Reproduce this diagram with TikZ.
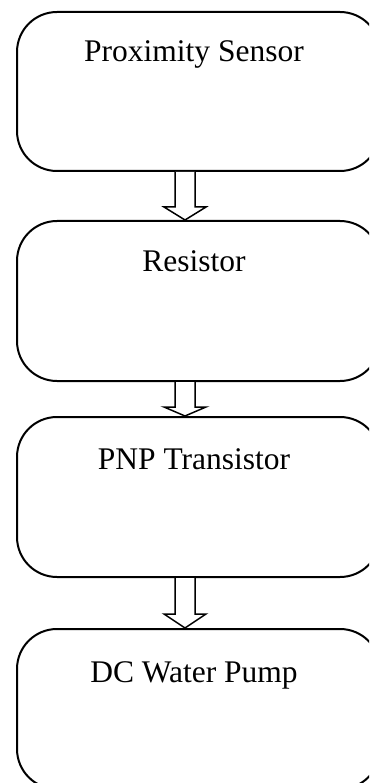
\documentclass[tikz,border=0pt]{standalone}
\usepackage{fontspec}
\setmainfont{Liberation Serif}
\usetikzlibrary{calc}
\tikzset{
  stagebox/.style={draw=black, line width=2pt, rounded corners=40pt,
    minimum width=363pt, inner sep=0pt},
  stagetext/.style={anchor=base, inner sep=0pt,
    font=\fontsize{31.5}{36}\selectfont},
  hollowarrow/.style={draw=black, line width=1.5pt, fill=white, line join=miter},
}
% hollow block arrow from the bottom of box #1 to the top of box #2, head length #3
\newcommand{\blockarrow}[3]{%
  \draw[hollowarrow] let \p1=(#1.south west), \p2=(#2.north) in
    (\x1+159,\y1) -- (\x1+159,\y2+#3) -- (\x1+148,\y2+#3) -- (\x1+169,\y2)
    -- (\x1+190,\y2+#3) -- (\x1+179,\y2+#3) -- (\x1+179,\y1);}
\begin{document}
\begin{tikzpicture}[x=1pt, y=-1pt]
  \useasboundingbox (0,0) rectangle (369,783);
  \clip (0,0) rectangle (369,783);

  \node[stagebox, minimum height=159pt] (sensor)     at (198.5,91.5) {};
  \node[stagebox, minimum height=160pt] (resistor)   at (198.5,301)  {};
  \node[stagebox, minimum height=160pt] (transistor) at (198.5,497)  {};
  \node[stagebox, minimum height=160pt] (pump)       at (198.5,709)  {};

  \node[stagetext] (sensorT)     at ($(sensor.north west)+(178,51)$)     {Proximity Sensor};
  \node[stagetext] (resistorT)   at ($(resistor.north west)+(178,52)$)   {Resistor};
  \node[stagetext] (transistorT) at ($(transistor.north west)+(178,53)$) {PNP Transistor};
  \node[stagetext] (pumpT)       at ($(pump.north west)+(178,54)$)       {DC Water Pump};

  \blockarrow{sensor}{resistor}{13}
  \blockarrow{resistor}{transistor}{9}
  \blockarrow{transistor}{pump}{14}
\end{tikzpicture}
\end{document}
